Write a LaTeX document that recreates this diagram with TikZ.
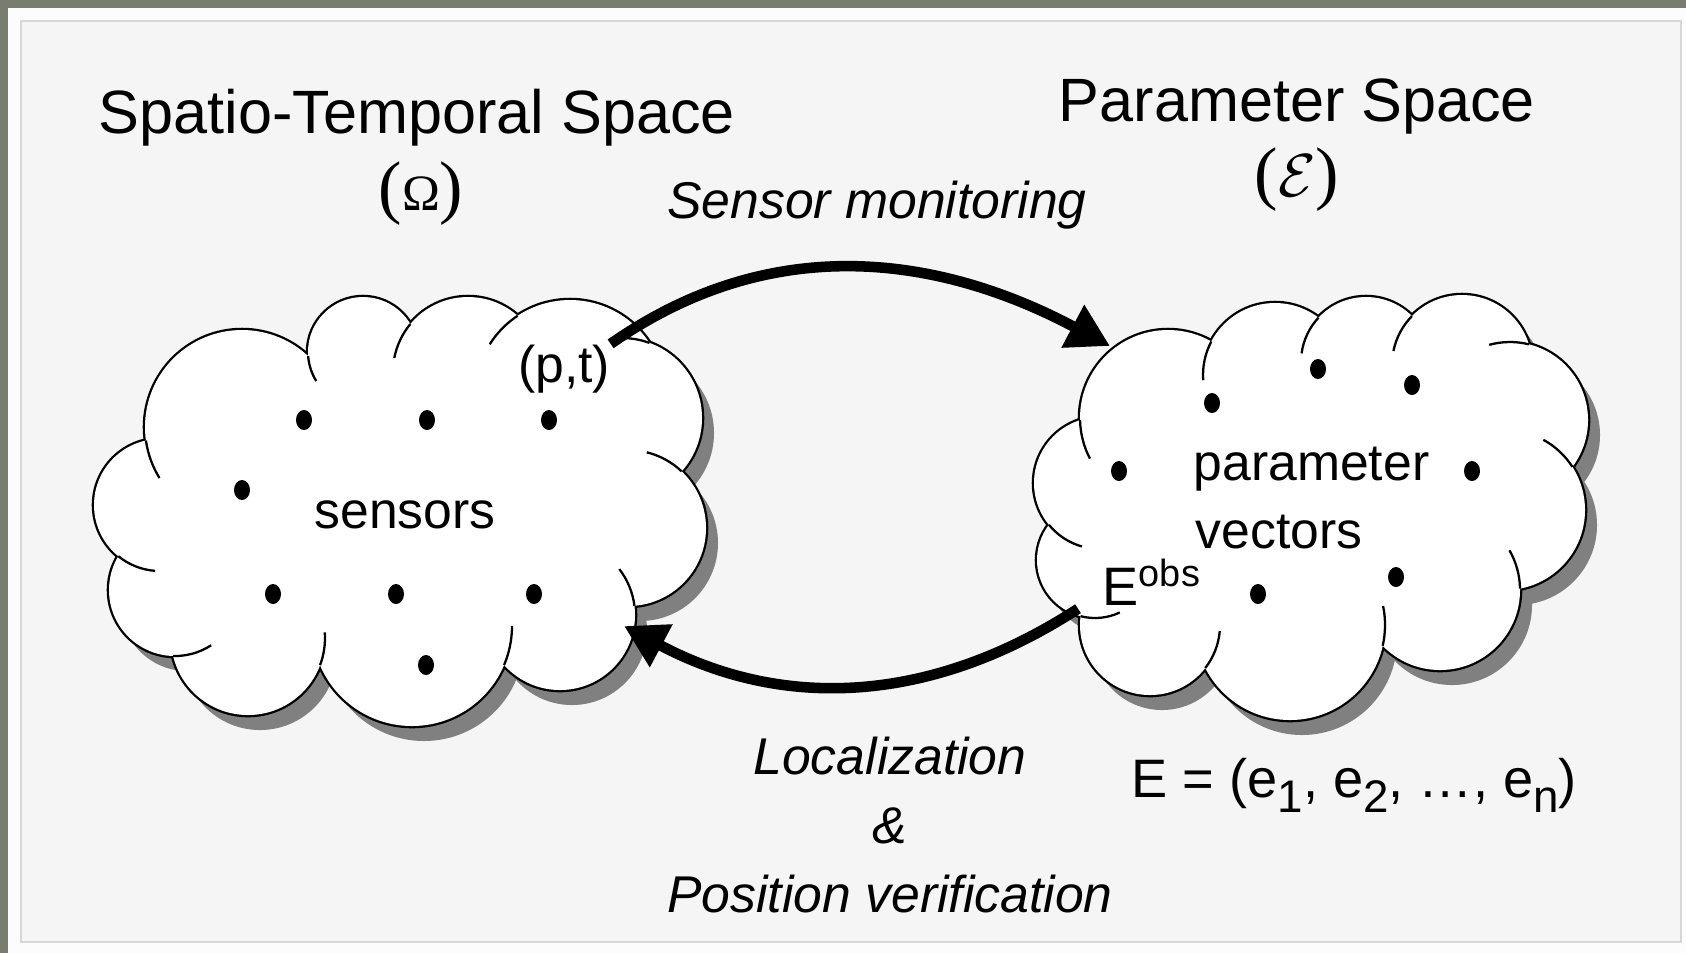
\documentclass[tikz,border=0pt]{standalone}
\usepackage{fontspec}
\setmainfont{Liberation Sans}
\newfontfamily\timesfont{Liberation Serif}
\usetikzlibrary{arrows.meta}

\definecolor{framedark}{RGB}{120,125,112}
\definecolor{framepale}{RGB}{252,252,252}
\definecolor{frameline}{RGB}{215,215,215}
\definecolor{pagebg}{RGB}{245,245,245}
\definecolor{shadowgray}{RGB}{128,128,128}

\newcommand{\titlesize}{\fontsize{17.4}{21}\selectfont}
\newcommand{\bodysize}{\fontsize{14.7}{19.5}\selectfont}
\newcommand{\bigparen}[1]{{\fontsize{20}{24}\selectfont(}#1{\fontsize{20}{24}\selectfont)}}
\newcommand{\lowsub}[1]{\raisebox{-4.5pt}{\fontsize{13}{15}\selectfont #1}}

\tikzset{
  titletext/.style={font=\titlesize, inner sep=0pt, anchor=base},
  bodytext/.style={font=\bodysize, inner sep=0pt, anchor=base},
  cloudline/.style={draw=black, line width=1.3pt},
  puffline/.style={draw=black, line width=0.65pt},
  flowarrow/.style={line width=3pt, -{Triangle[length=12pt, width=13pt]}},
}

% short arc of the next puff (#4,#5,#6) running into the earlier one (#1,#2,#3),
% started at their outer crossing; #7,#8 is the middle of the cloud
\newcommand{\puffhint}[8]{%
  \pgfmathsetmacro\clAx{#1/100}\pgfmathsetmacro\clAy{-#2/100}\pgfmathsetmacro\clAr{#3/100}%
  \pgfmathsetmacro\clBx{#4/100}\pgfmathsetmacro\clBy{-#5/100}\pgfmathsetmacro\clBr{#6/100}%
  \pgfmathsetmacro\clDx{(\clBx)-(\clAx)}\pgfmathsetmacro\clDy{(\clBy)-(\clAy)}%
  \pgfmathsetmacro\clD{sqrt((\clDx)*(\clDx)+(\clDy)*(\clDy))}%
  \pgfmathsetmacro\clL{((\clAr)*(\clAr)-(\clBr)*(\clBr)+(\clD)*(\clD))/(2*(\clD))}%
  \pgfmathsetmacro\clH{sqrt(max((\clAr)*(\clAr)-(\clL)*(\clL),0))}%
  \pgfmathsetmacro\clMx{(\clAx)+(\clL)*(\clDx)/(\clD)}%
  \pgfmathsetmacro\clMy{(\clAy)+(\clL)*(\clDy)/(\clD)}%
  \pgfmathsetmacro\clPx{(\clMx)-(\clH)*(\clDy)/(\clD)}%
  \pgfmathsetmacro\clPy{(\clMy)+(\clH)*(\clDx)/(\clD)}%
  \pgfmathsetmacro\clQx{(\clMx)+(\clH)*(\clDy)/(\clD)}%
  \pgfmathsetmacro\clQy{(\clMy)-(\clH)*(\clDx)/(\clD)}%
  \pgfmathsetmacro\clP{((\clPx)-#7/100)*((\clPx)-#7/100)+((\clPy)+#8/100)*((\clPy)+#8/100)}%
  \pgfmathsetmacro\clQ{((\clQx)-#7/100)*((\clQx)-#7/100)+((\clQy)+#8/100)*((\clQy)+#8/100)}%
  \pgfmathsetmacro\clJx{\clP>\clQ ? (\clPx) : (\clQx)}%
  \pgfmathsetmacro\clJy{\clP>\clQ ? (\clPy) : (\clQy)}%
  \pgfmathsetmacro\clIx{\clP>\clQ ? (\clQx) : (\clPx)}%
  \pgfmathsetmacro\clIy{\clP>\clQ ? (\clQy) : (\clPy)}%
  \pgfmathsetmacro\clTo{atan2((\clJy)-(\clBy),(\clJx)-(\clBx))}%
  \pgfmathsetmacro\clTi{atan2((\clIy)-(\clBy),(\clIx)-(\clBx))}%
  \pgfmathsetmacro\clDel{mod((\clTi)-(\clTo)+540,360)-180}%
  \pgfmathsetmacro\clArc{\clDel<0 ? -min(abs(\clDel)*0.5,2300/#6) : min(abs(\clDel)*0.5,2300/#6)}%
  \draw[puffline] ({\clJx*100},{\clJy*100}) arc[start angle=\clTo, delta angle=\clArc, radius=#6];%
}

% cloud: #1 puffs x/y/r clockwise (first one repeated at the end),
% #2,#3 middle, #4,#5 radii of the filled core
\newcommand{\drawcloud}[5]{%
  \fill[shadowgray] \foreach \x/\y/\r in {#1} {(\x+12,-\y-15) circle[radius=\r]}
    (#2+12,-#3-15) ellipse[x radius=#4, y radius=#5];
  \draw[cloudline] \foreach \x/\y/\r in {#1} {(\x,-\y) circle[radius=\r]};
  \fill[white] \foreach \x/\y/\r in {#1} {(\x,-\y) circle[radius=\r]}
    (#2,-#3) ellipse[x radius=#4, y radius=#5];
  \foreach \x/\y/\r [remember=\x as \lx (initially 0), remember=\y as \ly (initially 0),
      remember=\r as \lr (initially 0)] in {#1}
    {\ifdim\lr pt>0pt \puffhint{\lx}{\ly}{\lr}{\x}{\y}{\r}{#2}{#3}\fi}%
}

\begin{document}
\begin{tikzpicture}[x=0.01cm, y=0.01cm]
  \useasboundingbox (0,0) rectangle (1686,-953);
  % frame
  \fill[framedark] (0,0) rectangle (1686,-953);
  \fill[framepale] (8,-8) rectangle (1686,-953);
  \filldraw[fill=pagebg, draw=frameline, line width=0.6pt] (21,-21) rectangle (1681,-942);

  % the two spaces
  \drawcloud{160/505/66, 242/427/97, 363/352/55, 468/372/75, 570/395/95, 622/418/80,
    628/528/78, 560/615/75, 412/626/100, 248/638/77, 175/590/66, 160/505/66}{400}{505}{230}{160}
  \drawcloud{1100/483/66, 1168/418/88, 1275/375/72, 1366/362/65, 1462/365/70, 1510/420/78,
    1505/510/80, 1440/590/80, 1290/625/95, 1150/625/70, 1095/560/58, 1100/483/66}{1310}{495}{190}{140}

  % sensors and parameter vectors
  \foreach \x/\y in {304/420, 427/420, 549/420, 242/490, 273/594, 396/594, 534/594, 426/665,
      1318/369, 1412/385, 1212/403, 1119/471, 1472/471, 1258/594, 1396/577}
    \fill (\x,-\y) ellipse[x radius=8, y radius=10];

  \node[titletext] (stspace) at (417,-133) {Spatio-Temporal Space};
  \node[titletext, font=\timesfont\fontsize{14.5}{17}\selectfont] (omega) at (421,-210) {\bigparen{Ω}};
  \node[titletext] (parspace) at (1297,-121) {Parameter Space};
  \node[titletext, font=\timesfont\fontsize{18}{22}\selectfont] (calE) at (1297,-196) {\bigparen{$\mathcal{E}$}};
  \node[bodytext, font=\bodysize\itshape] (monitor) at (877,-218) {Sensor monitoring};
  \node[bodytext] (pt) at (564,-382) {(p,t)};
  \node[bodytext] (sensors) at (405,-528) {sensors};
  \node[bodytext, anchor=base west] (param) at (1193,-480) {parameter};
  \node[bodytext, anchor=base west] (vect) at (1195,-548) {vectors};
  \node[bodytext, font=\fontsize{15.4}{18}\selectfont, anchor=base west] (eobs) at (1102,-605) {E\textsuperscript{obs}};
  \node[bodytext, font=\bodysize\itshape, align=center] (loc) at (890,-912) {Localization\\\&\\Position verification};
  \node[bodytext, font=\fontsize{15.4}{18}\selectfont, anchor=base west] (evec) at (1131,-797)
    {E = (e\lowsub{1}, e\lowsub{2}, …, e\lowsub{n})};

  % monitoring and localization
  \coordinate (monitortip) at (1110,-346);
  \coordinate (loctip) at (624,-626);
  \draw[flowarrow] (pt.north east) to[out=35, in=152] (monitortip);
  \draw[flowarrow] ([shift={(-24,-3)}]eobs.south west) to[out=213, in=-28] (loctip);
\end{tikzpicture}
\end{document}
